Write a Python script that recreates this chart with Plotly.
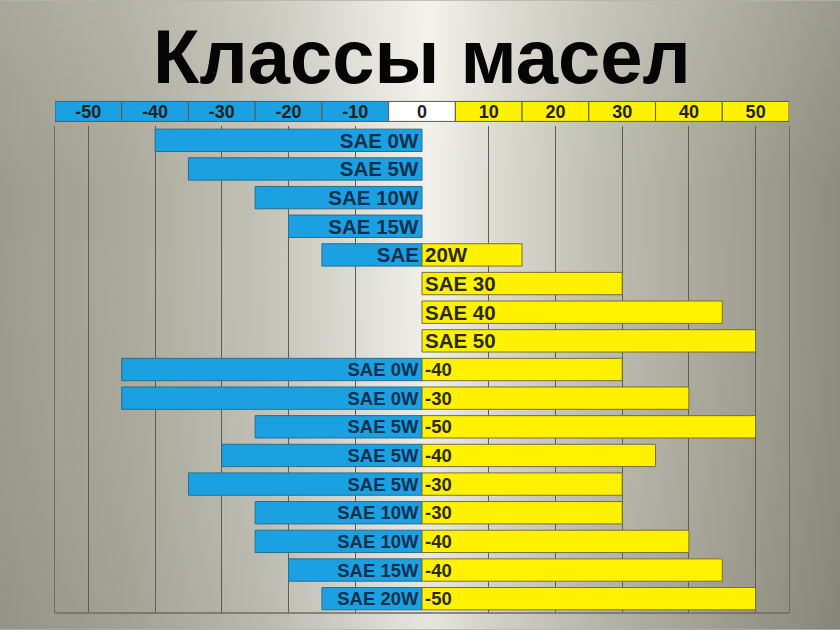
import base64
import plotly.graph_objects as go

# ---------------- data ----------------
rows = list(range(17))
cold_labels = ["SAE 0W", "SAE 5W", "SAE 10W", "SAE 15W", "SAE", "", "", "",
               "SAE 0W", "SAE 0W", "SAE 5W", "SAE 5W", "SAE 5W",
               "SAE 10W", "SAE 10W", "SAE 15W", "SAE 20W"]
cold_values = [-40, -35, -25, -20, -15, None, None, None,
               -45, -45, -25, -30, -35, -25, -25, -20, -15]
hot_labels = ["", "", "", "", "20W", "SAE 30", "SAE 40", "SAE 50",
              "-40", "-30", "-50", "-40", "-30", "-30", "-40", "-40", "-50"]
hot_values = [None, None, None, None, 15, 30, 45, 50,
              30, 40, 50, 35, 30, 30, 40, 45, 50]
tick_values = [-50, -40, -30, -20, -10, 0, 10, 20, 30, 40, 50]
tick_labels = ["-50", "-40", "-30", "-20", "-10", "0", "10", "20", "30", "40", "50"]
title_text = "Классы масел"

# ---------------- styling ----------------
W, H = 840, 630
L, R = 55, 789          # plot area horizontal pixels
T, B = 125.6, 613.4     # plot area vertical pixels
PW, PH = R - L, B - T

BLUE = "#1ba1e2"
YELLOW = "#fff100"

normal_font = "Liberation Sans, Arial, sans-serif"
narrow_font = "Liberation Sans Narrow, Arial Narrow, Liberation Sans, sans-serif"
fonts = [normal_font] * 8 + [narrow_font] * 9
sizes = [20.5] * 8 + [18.5] * 9


def py(q):
    """figure pixel y -> paper y"""
    return 1 - (q - T) / PH


def px(p):
    return (p - L) / PW


svg = f'''<svg xmlns="http://www.w3.org/2000/svg" width="{W}" height="{H}">
<defs>
<linearGradient id="g" x1="0" y1="0" x2="1" y2="0">
<stop offset="0" stop-color="#9c9b8d"/>
<stop offset="0.15" stop-color="#aaa99b"/>
<stop offset="0.32" stop-color="#c4c3b8"/>
<stop offset="0.46" stop-color="#e6e5de"/>
<stop offset="0.51" stop-color="#f1f0ea"/>
<stop offset="0.58" stop-color="#dedcd3"/>
<stop offset="0.72" stop-color="#bdbcb0"/>
<stop offset="0.88" stop-color="#a2a193"/>
<stop offset="1" stop-color="#8d8c7e"/>
</linearGradient>
<linearGradient id="v" x1="0" y1="0" x2="0" y2="1">
<stop offset="0" stop-color="#ffffff" stop-opacity="0.12"/>
<stop offset="0.3" stop-color="#ffffff" stop-opacity="0"/>
<stop offset="1" stop-color="#000000" stop-opacity="0.05"/>
</linearGradient>
</defs>
<rect width="{W}" height="{H}" fill="url(#g)"/>
<rect width="{W}" height="{H}" fill="url(#v)"/>
</svg>'''
bg_uri = "data:image/svg+xml;base64," + base64.b64encode(svg.encode()).decode()

fig = go.Figure()

fig.add_trace(go.Bar(
    y=rows, x=cold_values, orientation="h",
    marker=dict(color=BLUE, line=dict(color="#2c6d8c", width=1)),
    text=cold_labels, textposition="inside", insidetextanchor="start",
    constraintext="none",
    textfont=dict(family=fonts, size=sizes, color="#10304d", weight="bold"),
    hoverinfo="skip", showlegend=False,
))
fig.add_trace(go.Bar(
    y=rows, x=hot_values, orientation="h",
    marker=dict(color=YELLOW, line=dict(color="#77702a", width=1)),
    text=hot_labels, textposition="inside", insidetextanchor="start",
    constraintext="none",
    textfont=dict(family=fonts, size=sizes, color="#2b2a18", weight="bold"),
    hoverinfo="skip", showlegend=False,
))

shapes = []
# header cells, one per tick
for v in tick_values:
    fill = BLUE if v < 0 else ("#ffffff" if v == 0 else YELLOW)
    shapes.append(dict(type="rect", xref="x", yref="paper",
                       x0=v - 5, x1=v + 5, y0=py(121), y1=py(101),
                       fillcolor=fill, line=dict(color="#5a5a50", width=1),
                       layer="below"))
# bottom line of the grid
shapes.append(dict(type="line", xref="paper", yref="paper", x0=0, x1=1,
                   y0=0, y1=0, line=dict(color="#6e6d62", width=1.5)))

fig.update_layout(
    width=W, height=H,
    margin=dict(l=L, r=W - R, t=T, b=H - B, pad=0),
    paper_bgcolor="#b5b4a8",
    plot_bgcolor="rgba(0,0,0,0)",
    barmode="relative",
    bargap=0.22,
    shapes=shapes,
    images=[dict(source=bg_uri, xref="paper", yref="paper",
                 x=px(0), y=py(0), sizex=px(W) - px(0), sizey=py(0) - py(H),
                 sizing="stretch", xanchor="left", yanchor="top", layer="below")],
    title=dict(text=title_text, x=0.5, xref="paper", xanchor="center",
               y=1 - 56 / H, yanchor="middle",
               font=dict(family=normal_font, size=76, color="#050505", weight="bold")),
    xaxis=dict(
        range=[-55, 55], side="top",
        tickvals=tick_values, ticktext=tick_labels,
        ticks="", ticklen=0, ticklabelstandoff=3,
        tickfont=dict(family=normal_font, size=18, color="#222222", weight="bold"),
        showgrid=False, zeroline=False, showline=False,
        minor=dict(tickvals=[v for v in tick_values if v != 0], showgrid=True,
                   gridcolor="#5e5d55", gridwidth=1.3, ticks=""),
        fixedrange=True,
    ),
    yaxis=dict(
        range=[16.5, -0.5], showticklabels=False, showgrid=False,
        zeroline=False, showline=True, mirror=True,
        linecolor="#6e6d62", linewidth=1.3, ticks="",
        fixedrange=True,
    ),
)

fig.write_html("out.html", config={"displayModeBar": False},
               post_script="document.body.style.margin='0';document.body.style.overflow='hidden';")
